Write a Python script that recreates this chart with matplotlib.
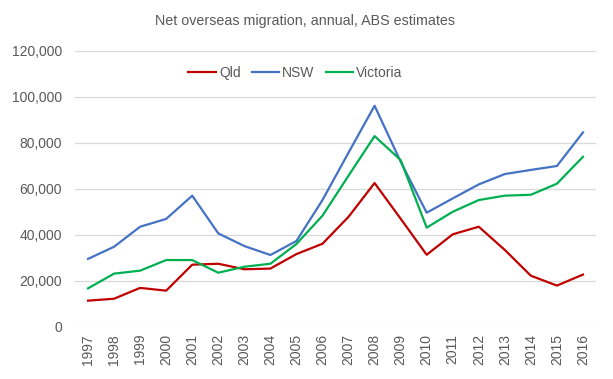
import matplotlib
matplotlib.use("Agg")
import matplotlib.pyplot as plt
from matplotlib.ticker import FuncFormatter

years = [str(y) for y in range(1997, 2017)]
qld = [11450, 12300, 17000, 15800, 27100, 27500, 25100, 25400, 31700, 36200,
       47900, 62600, 47100, 31400, 40300, 43600, 33500, 22300, 18000, 22800]
nsw = [29600, 34900, 43600, 47000, 57100, 40700, 35200, 31300, 37400, 55200,
       75800, 96200, 71900, 49700, 55900, 62000, 66500, 68300, 70000, 84600]
vic = [16800, 23200, 24500, 29100, 29100, 23600, 26200, 27500, 36100, 48400,
       65800, 83000, 72600, 43200, 50100, 55200, 57100, 57500, 62300, 74000]
yticks = [0, 20000, 40000, 60000, 80000, 100000, 120000]

plt.rcParams['font.family'] = ['Liberation Sans', 'DejaVu Sans']
fig = plt.figure(figsize=(6.13, 3.79), dpi=100)
ax = fig.add_axes([75/613, 1-327/379, (596-75)/613, (327-51)/379])

x = list(range(len(years)))
ax.plot(x, qld, color='#C00000', lw=1.6, label='Qld')
ax.plot(x, nsw, color='#4472C4', lw=1.6, label='NSW')
ax.plot(x, vic, color='#00B050', lw=1.6, label='Victoria')

ax.set_xlim(-0.5, len(years)-0.5)
ax.set_ylim(0, 120000)
ax.set_yticks(yticks)
ax.yaxis.set_major_formatter(FuncFormatter(lambda v, p: f"{int(v):,}"))
ax.set_xticks(x)
ax.set_xticklabels(years, rotation=90)
ax.tick_params(axis='both', length=0, labelsize=10, colors='#595959')
ax.tick_params(axis='y', pad=9.5)
ax.tick_params(axis='x', pad=5)
ax.grid(axis='y', color='#D9D9D9', lw=0.9)
ax.set_axisbelow(True)
for s in ax.spines.values():
    s.set_visible(False)

fig.text(305/613, 1-20.5/379, 'Net overseas migration, annual, ABS estimates',
         ha='center', va='center', fontsize=10.3, color='#595959')

leg = ax.legend(loc='center', bbox_to_anchor=((295.5-75)/(596-75), (327-73)/(327-51)),
                ncol=3, frameon=False, fontsize=10, handlelength=2.0,
                columnspacing=0.8, handletextpad=0.2)
for t in leg.get_texts():
    t.set_color('#595959')

fig.savefig('out.png', dpi=100)
